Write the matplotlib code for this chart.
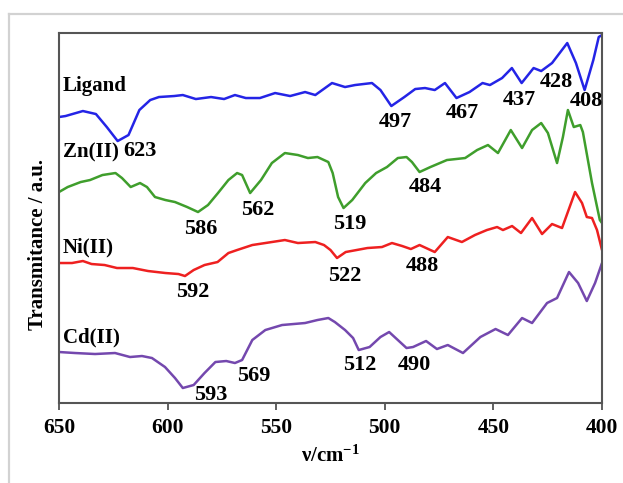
import matplotlib
matplotlib.use("Agg")
import matplotlib.pyplot as plt
from matplotlib.lines import Line2D

plt.rcParams['font.family'] = ['Liberation Serif', 'DejaVu Serif']
plt.rcParams['font.weight'] = 'bold'
plt.rcParams['mathtext.fontset'] = 'custom'
plt.rcParams['mathtext.rm'] = 'Liberation Serif:bold'
plt.rcParams['mathtext.bf'] = 'Liberation Serif:bold'
plt.rcParams['mathtext.default'] = 'bf'

# IR spectra (wavenumber in cm-1, offset transmittance in arbitrary units)
ligand_wn = [650, 647, 639, 633, 628, 623, 618, 613, 608, 604, 597, 593, 587, 580, 574, 569,
             564, 557.5, 550.5, 543.6, 536.7, 532, 524.3, 518.3, 513.7, 505.9, 502, 497, 491,
             486, 481.5, 477, 472.3, 467, 461, 455, 451.6, 446, 441.5, 437, 431.5, 428, 423,
             416, 412, 408, 404, 401.5, 400]
ligand_t = [286, 287, 292, 289, 276, 262, 268, 293, 303, 306, 307, 308, 304, 306, 304, 308,
            305, 305, 310, 307, 311, 308, 320, 316, 318, 320, 313, 297, 306,
            314, 315, 313, 320, 305, 311, 320, 318, 325, 335, 320, 335, 332, 340,
            360, 340, 313, 343, 366, 368]

zn_wn = [650, 646, 640, 635.7, 630, 624, 621, 617, 612.7, 609.5, 605.8, 601, 596.6, 591, 586,
         581.4, 576.8, 572, 568, 565.7, 562, 557, 552, 546, 540, 535.4, 531, 526, 524, 521.5,
         519, 515, 509, 504, 499, 494, 490, 487.5, 484, 479, 471.4, 463, 457.5, 452.5, 447.9,
         442, 436.8, 432.2, 428, 424.9, 420.7, 418, 415.7, 413, 410, 408.8, 404.6, 401, 400]
zn_t = [211, 216, 221, 223, 228, 230, 225, 216, 220, 216, 206, 203, 201, 196, 191,
        198, 210, 223, 230, 228, 210, 223, 240, 250, 248, 245, 246, 241, 230, 206,
        195, 203, 220, 230, 236, 245, 246, 241, 231, 236, 243, 245, 253, 258, 250,
        273, 255, 273, 280, 270, 240, 266, 293, 276, 278, 271, 220, 183, 180]

ni_wn = [650, 644, 639, 635, 629, 623.3, 616, 609, 601, 595, 592, 588, 583, 577, 572, 568,
         561, 552, 546, 540, 532, 528, 525, 522, 518, 513, 508, 501.3, 496.7, 492, 488, 484,
         477, 471, 464.5, 458.5, 453, 448.3, 445.6, 441.4, 437.3, 432.2, 427.6, 423, 418.4,
         412.4, 409.2, 407, 404.6, 402.3, 400]
ni_t = [140, 140, 142, 139, 138, 135, 135, 132, 130, 129, 127, 133, 138, 141, 150, 153,
        158, 161, 163, 160, 161, 158, 153, 145, 151, 153, 155, 156, 160, 157, 154, 158,
        151, 166, 161, 168, 173, 176, 173, 177, 170, 185, 169, 179, 175,
        211, 200, 186, 185, 173, 153]

cd_wn = [650, 642.6, 633.4, 624.2, 617.3, 611.8, 607.2, 601.2, 596.6, 593, 588, 583, 578, 573,
         569, 565.7, 561, 555, 547.3, 536.7, 531, 526, 523, 518.3, 514.6, 512, 507, 502, 498,
         494, 490, 487, 481, 476, 471, 464, 456, 449, 443.3, 436.8, 432.2, 425.3, 420.7,
         415.2, 411, 407, 403.2, 400]
cd_t = [51, 50, 49, 50, 46, 47, 45, 36, 25, 15, 18, 30, 41, 42,
        40, 43, 63, 73, 78, 80, 83, 85, 81, 73, 65, 53, 56, 66, 71,
        63, 55, 56, 62, 54, 58, 50, 66, 74, 68, 85, 80, 100, 105,
        131, 120, 102, 120, 140]

series_names = ['Ligand', 'Zn(II)', 'Ni(II)', 'Cd(II)']
series_colors = ['#2424e6', '#3f9e2c', '#ee2020', '#7448ae']
name_y = [317.5, 251, 155.5, 66]

# peak annotations: text, x, y
peak_text = ['623', '497', '467', '437', '428', '408',
             '586', '562', '519', '484',
             '592', '522', '488',
             '593', '569', '512', '490']
peak_x = [612.9, 495.1, 464.2, 438.2, 420.9, 407.1,
          584.9, 558.6, 516.3, 481.5,
          588.5, 518.3, 482.6,
          580.2, 560.5, 511.6, 486.3]
peak_y = [252, 281.5, 290, 303, 321.5, 302,
          174.5, 193, 179, 216,
          111, 127, 137,
          8, 27, 38, 38]

x_ticks = [650, 600, 550, 500, 450, 400]

fig = plt.figure(figsize=(6.23, 4.83), dpi=100)
fig.patch.set_facecolor('white')

# light frame around the figure
fig.add_artist(Line2D([0.0152, 1.0], [0.971, 0.971], transform=fig.transFigure,
                      color='#d2d2d2', lw=1.6))
fig.add_artist(Line2D([0.0152, 0.0152], [0.0, 0.971], transform=fig.transFigure,
                      color='#d2d2d2', lw=1.6))

ax = fig.add_axes([0.0947, 0.1656, 0.8716, 0.766])

for wn, t, c in zip([ligand_wn, zn_wn, ni_wn, cd_wn], [ligand_t, zn_t, ni_t, cd_t], series_colors):
    ax.plot(wn, t, color=c, lw=1.8, solid_joinstyle='round', solid_capstyle='round')

ax.set_xlim(650, 400)
ax.set_ylim(0, 370)
ax.set_xticks(x_ticks)
ax.set_yticks([])
ax.tick_params(axis='x', direction='out', length=5, width=1.2, color='#444444',
               labelsize=15.5, pad=6)
for lab in ax.get_xticklabels():
    lab.set_fontweight('bold')
for sp in ax.spines.values():
    sp.set_color('#555555')
    sp.set_linewidth(1.5)

for name, y in zip(series_names, name_y):
    ax.text(648.3, y, name, ha='left', va='center', fontsize=15, fontweight='bold')

for s, x, y in zip(peak_text, peak_x, peak_y):
    ax.text(x, y, s, ha='center', va='center', fontsize=16, fontweight='bold')

fig.text(0.53, 1 - 456 / 483, 'ν/cm$^{-1}$', ha='center', va='center', fontsize=15,
         fontweight='bold')
fig.text(38 / 623, 1 - 244 / 483, 'Transmitance / a.u.', rotation=90, ha='center',
         va='center', fontsize=15, fontweight='bold')

fig.savefig('out.png', dpi=100, facecolor='white')
